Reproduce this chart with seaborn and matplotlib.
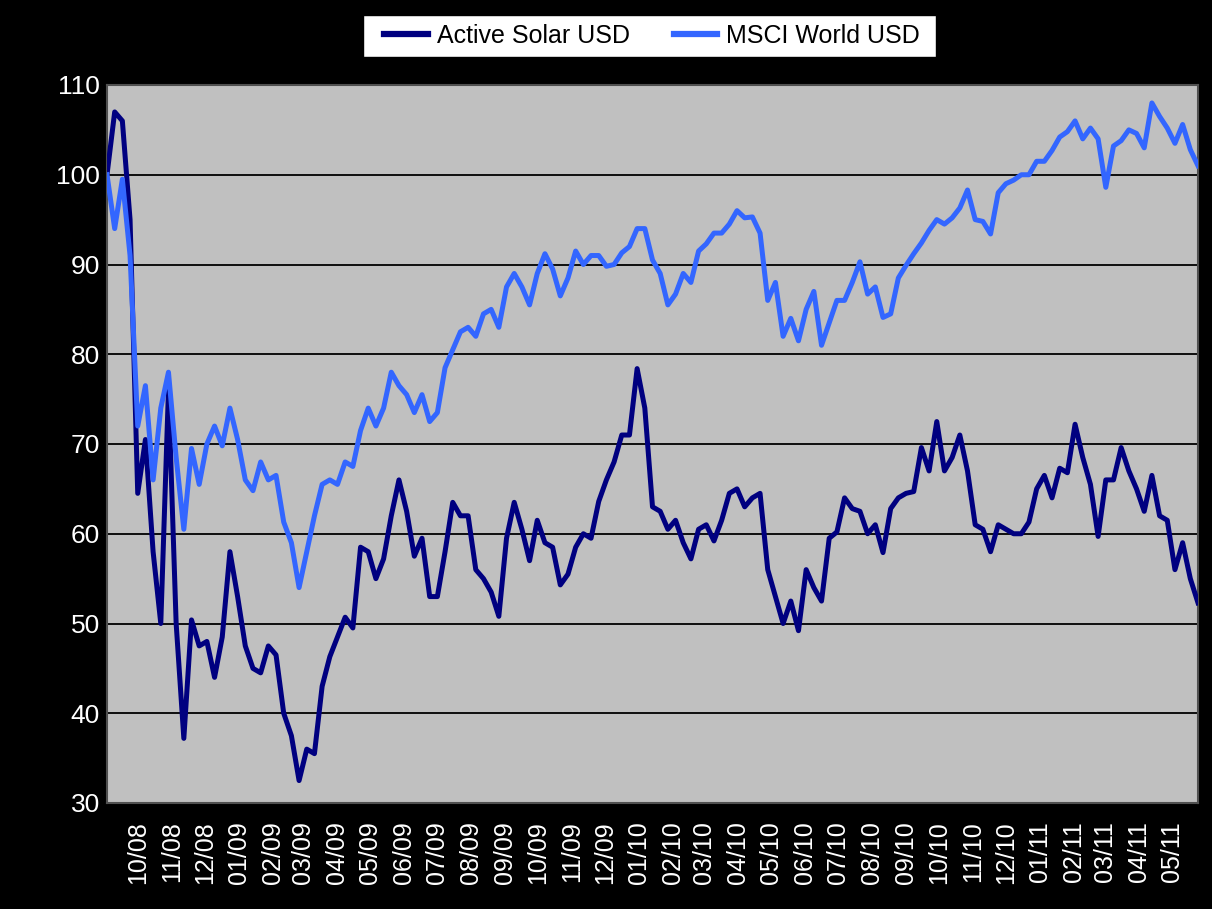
import numpy as np
import pandas as pd
import matplotlib
matplotlib.use("Agg")
import matplotlib.pyplot as plt
from matplotlib.patches import Rectangle
import seaborn as sns

# ---- data (weekly readings, rebased to 100) ----
start_date = "2008-09-03"
n_weeks = 143

active_solar = [
    100, 107, 106, 95, 64.5, 70.5, 58, 50, 76, 50,
    37.2, 50.4, 47.5, 48, 44, 48.5, 58, 53, 47.5, 45,
    44.5, 47.5, 46.5, 40, 37.5, 32.5, 36, 35.5, 43, 46.3,
    48.5, 50.7, 49.5, 58.5, 58, 55, 57.2, 62, 66, 62.5,
    57.5, 59.5, 53, 53, 58, 63.5, 62, 62, 56, 55,
    53.5, 50.8, 59.5, 63.5, 60.5, 57, 61.5, 59, 58.5, 54.3,
    55.5, 58.5, 60, 59.5, 63.6, 66, 68, 71, 71, 78.4,
    74, 63, 62.5, 60.5, 61.5, 59, 57.2, 60.5, 61, 59.2,
    61.5, 64.5, 65, 63, 64, 64.5, 56, 53, 50, 52.5,
    49.2, 56, 54, 52.5, 59.5, 60.2, 64, 62.8, 62.5, 60,
    61, 57.9, 62.8, 64, 64.5, 64.7, 69.6, 67, 72.5, 67,
    68.5, 71, 67, 61, 60.5, 58, 61, 60.5, 60, 60,
    61.3, 65, 66.5, 64, 67.3, 66.8, 72.2, 68.5, 65.5, 59.7,
    66, 66, 69.6, 67, 65, 62.5, 66.5, 62, 61.5, 56,
    59, 55, 52.3,
]

msci_world = [
    100, 94, 99.5, 91, 72, 76.5, 66, 74, 78, 68.5,
    60.5, 69.5, 65.5, 70, 72, 69.8, 74, 70.5, 66, 64.8,
    68, 66, 66.5, 61.3, 59, 54, 58, 62, 65.5, 66,
    65.5, 68, 67.5, 71.5, 74, 72, 74, 78, 76.5, 75.5,
    73.5, 75.5, 72.5, 73.5, 78.5, 80.5, 82.5, 83, 82, 84.5,
    85, 83, 87.5, 89, 87.5, 85.5, 89, 91.2, 89.5, 86.5,
    88.5, 91.5, 90, 91, 91, 89.8, 90, 91.3, 92, 94,
    94, 90.5, 89, 85.5, 86.7, 89, 88, 91.5, 92.3, 93.5,
    93.5, 94.5, 96, 95.2, 95.3, 93.5, 86, 88, 82, 84,
    81.5, 85, 87, 81, 83.5, 86, 86, 88, 90.3, 86.7,
    87.5, 84.1, 84.5, 88.5, 89.9, 91.2, 92.4, 93.8, 95, 94.5,
    95.2, 96.3, 98.3, 95, 94.8, 93.4, 98, 99, 99.4, 100,
    100, 101.5, 101.5, 102.7, 104.2, 104.8, 106, 104, 105.2, 104,
    98.6, 103.2, 103.8, 105, 104.6, 103, 108, 106.5, 105.2, 103.5,
    105.6, 102.8, 101,
]

series_names = ["Active Solar USD", "MSCI World USD"]
series_colors = ["#000080", "#3366FF"]
y_ticks = [30, 40, 50, 60, 70, 80, 90, 100, 110]

dates = pd.date_range(start_date, periods=n_weeks, freq="7D")
df = pd.concat([
    pd.DataFrame({"date": dates, "value": active_solar, "series": series_names[0]}),
    pd.DataFrame({"date": dates, "value": msci_world, "series": series_names[1]}),
], ignore_index=True)

plt.rcParams["font.family"] = ["Liberation Sans", "DejaVu Sans"]

W, H = 1212, 909
fig = plt.figure(figsize=(W / 100, H / 100), dpi=100, facecolor="black")
ax = fig.add_axes([107 / W, 1 - 803 / H, (1198 - 107) / W, (803 - 85) / H])
ax.set_facecolor("#C0C0C0")

sns.lineplot(data=df, x="date", y="value", hue="series",
             palette=dict(zip(series_names, series_colors)),
             linewidth=3.6, ax=ax, legend=False, zorder=3)

ax.set_ylim(30, 110)
ax.set_xlim(dates[0], dates[-1])
ax.set_yticks(y_ticks)
ax.set_yticklabels([str(t) for t in y_ticks], color="white", fontsize=19)
for t in y_ticks[1:-1]:
    ax.axhline(t, color="black", linewidth=1.3, zorder=1)

month_ticks = pd.date_range("2008-10-01", "2011-05-01", freq="MS")
ax.set_xticks(month_ticks)
ax.set_xticklabels([d.strftime("%m/%y") for d in month_ticks], rotation=90,
                   color="white", fontsize=18)
ax.tick_params(axis="x", length=0, pad=13)
ax.tick_params(axis="y", length=0, pad=5)
ax.set_xlabel("")
ax.set_ylabel("")
for s in ax.spines.values():
    s.set_color("#505050")
    s.set_linewidth(1.5)

# legend box
fig.patches.append(Rectangle((363 / W, 1 - 57 / H), (936 - 363) / W, 42 / H,
                             transform=fig.transFigure, facecolor="white",
                             edgecolor="black", linewidth=1.0, zorder=5))
handles = [plt.Line2D([0], [0], color=c, linewidth=4.5) for c in series_colors]
leg = fig.legend(handles, series_names, loc="center", ncol=2,
                 bbox_to_anchor=(652 / W, 1 - 36 / H), fontsize=18,
                 frameon=False, handlelength=1.75, handletextpad=0.35,
                 columnspacing=1.75)
leg.set_zorder(6)

fig.savefig("out.png", dpi=100, facecolor="black")
